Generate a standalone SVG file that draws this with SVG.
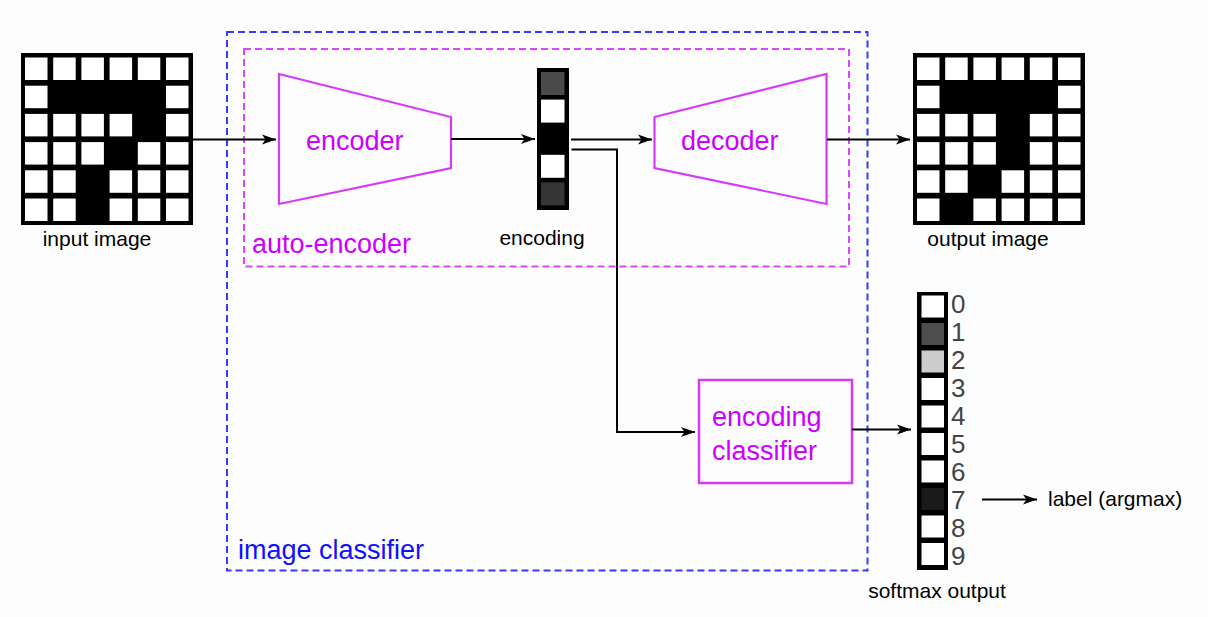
<svg xmlns="http://www.w3.org/2000/svg" width="1208" height="617" viewBox="0 0 1208 617">
<style>
.lbl{font-family:"Liberation Sans",Arial,sans-serif;font-size:21px;fill:#000}
.mg{font-family:"Liberation Sans",Arial,sans-serif;font-size:27px;fill:#CC00FF}
.bl{font-family:"Liberation Sans",Arial,sans-serif;font-size:27px;fill:#1010FF}
.dg{font-family:"Liberation Sans",Arial,sans-serif;font-size:26px;fill:#444}
.conn{fill:none;stroke:#000;stroke-width:2}
.shape{fill:none;stroke:#D63AF9;stroke-width:2.2}
.w{fill:#fff}
</style>
<defs>
<marker id="arr" markerWidth="15" markerHeight="11" refX="14" refY="5.5" orient="auto" markerUnits="userSpaceOnUse">
<path d="M0,0.5 L14,5.5 L0,10.5 L3.5,5.5 Z" fill="#000"/>
</marker>
</defs>
<rect width="1208" height="617" fill="#fdfdfd"/>

<g id="image-classifier">
<rect x="227" y="32" width="640.5" height="538.5" fill="none" stroke="#3838FF" stroke-width="2" stroke-dasharray="7 4"/>
<text class="bl" x="238" y="559">image classifier</text>
</g>

<g id="auto-encoder">
<rect x="244" y="49" width="605" height="217.5" fill="none" stroke="#DD44FF" stroke-width="2" stroke-dasharray="7 4"/>
<text class="mg" x="252" y="253">auto-encoder</text>
</g>

<g id="input-image">
<rect x="21" y="53" width="172" height="172" fill="#000"/>
<g class="w">
<rect x="25" y="57.5" width="22.5" height="22.5"/><rect x="53.2" y="57.5" width="22.5" height="22.5"/><rect x="81.4" y="57.5" width="22.5" height="22.5"/><rect x="109.6" y="57.5" width="22.5" height="22.5"/><rect x="137.8" y="57.5" width="22.5" height="22.5"/><rect x="166" y="57.5" width="22.5" height="22.5"/>
<rect x="25" y="85.7" width="22.5" height="22.5"/><rect x="166" y="85.7" width="22.5" height="22.5"/>
<rect x="25" y="113.9" width="22.5" height="22.5"/><rect x="53.2" y="113.9" width="22.5" height="22.5"/><rect x="81.4" y="113.9" width="22.5" height="22.5"/><rect x="109.6" y="113.9" width="22.5" height="22.5"/><rect x="166" y="113.9" width="22.5" height="22.5"/>
<rect x="25" y="142.1" width="22.5" height="22.5"/><rect x="53.2" y="142.1" width="22.5" height="22.5"/><rect x="81.4" y="142.1" width="22.5" height="22.5"/><rect x="137.8" y="142.1" width="22.5" height="22.5"/><rect x="166" y="142.1" width="22.5" height="22.5"/>
<rect x="25" y="170.3" width="22.5" height="22.5"/><rect x="53.2" y="170.3" width="22.5" height="22.5"/><rect x="109.6" y="170.3" width="22.5" height="22.5"/><rect x="137.8" y="170.3" width="22.5" height="22.5"/><rect x="166" y="170.3" width="22.5" height="22.5"/>
<rect x="25" y="198.5" width="22.5" height="22.5"/><rect x="53.2" y="198.5" width="22.5" height="22.5"/><rect x="109.6" y="198.5" width="22.5" height="22.5"/><rect x="137.8" y="198.5" width="22.5" height="22.5"/><rect x="166" y="198.5" width="22.5" height="22.5"/>
</g>
<text class="lbl" x="97" y="246" text-anchor="middle">input image</text>
</g>

<g id="encoder">
<polygon class="shape" points="279,74 451,117 451,168 279,204"/>
<text class="mg" x="306" y="150">encoder</text>
</g>

<g id="encoding">
<rect x="537" y="68" width="32" height="142" fill="#000"/>
<rect x="541" y="72" width="23.5" height="23" fill="#4a4a4a"/>
<rect x="541" y="99.6" width="23.5" height="23" fill="#fff"/>
<rect x="541" y="154.8" width="23.5" height="23" fill="#fff"/>
<rect x="541" y="182.4" width="23.5" height="23" fill="#363636"/>
<text class="lbl" x="542" y="244.5" text-anchor="middle">encoding</text>
</g>

<g id="decoder">
<polygon class="shape" points="654.5,117 826.5,74 826.5,204 654.5,168"/>
<text class="mg" x="681" y="149.5">decoder</text>
</g>

<g id="output-image">
<rect x="913" y="53" width="172" height="172" fill="#000"/>
<g class="w">
<rect x="917" y="57.5" width="22.5" height="22.5"/><rect x="945.2" y="57.5" width="22.5" height="22.5"/><rect x="973.4" y="57.5" width="22.5" height="22.5"/><rect x="1001.6" y="57.5" width="22.5" height="22.5"/><rect x="1029.8" y="57.5" width="22.5" height="22.5"/><rect x="1058" y="57.5" width="22.5" height="22.5"/>
<rect x="917" y="85.7" width="22.5" height="22.5"/><rect x="1058" y="85.7" width="22.5" height="22.5"/>
<rect x="917" y="113.9" width="22.5" height="22.5"/><rect x="945.2" y="113.9" width="22.5" height="22.5"/><rect x="973.4" y="113.9" width="22.5" height="22.5"/><rect x="1029.8" y="113.9" width="22.5" height="22.5"/><rect x="1058" y="113.9" width="22.5" height="22.5"/>
<rect x="917" y="142.1" width="22.5" height="22.5"/><rect x="945.2" y="142.1" width="22.5" height="22.5"/><rect x="973.4" y="142.1" width="22.5" height="22.5"/><rect x="1029.8" y="142.1" width="22.5" height="22.5"/><rect x="1058" y="142.1" width="22.5" height="22.5"/>
<rect x="917" y="170.3" width="22.5" height="22.5"/><rect x="945.2" y="170.3" width="22.5" height="22.5"/><rect x="1001.6" y="170.3" width="22.5" height="22.5"/><rect x="1029.8" y="170.3" width="22.5" height="22.5"/><rect x="1058" y="170.3" width="22.5" height="22.5"/>
<rect x="917" y="198.5" width="22.5" height="22.5"/><rect x="973.4" y="198.5" width="22.5" height="22.5"/><rect x="1001.6" y="198.5" width="22.5" height="22.5"/><rect x="1029.8" y="198.5" width="22.5" height="22.5"/><rect x="1058" y="198.5" width="22.5" height="22.5"/>
</g>
<text class="lbl" x="988" y="246" text-anchor="middle">output image</text>
</g>

<g id="encoding-classifier">
<rect x="699" y="380" width="153" height="103" fill="none" stroke="#D63AF9" stroke-width="2.5"/>
<text class="mg" x="712" y="425.5">encoding</text>
<text class="mg" x="712" y="460">classifier</text>
</g>

<g id="softmax-output">
<rect x="917" y="292" width="31" height="278" fill="#000"/>
<rect x="921.5" y="295.5" width="22.5" height="22" fill="#fff"/>
<rect x="921.5" y="323" width="22.5" height="22" fill="#4d4d4d"/>
<rect x="921.5" y="350.5" width="22.5" height="22" fill="#cccccc"/>
<rect x="921.5" y="378" width="22.5" height="22" fill="#fff"/>
<rect x="921.5" y="405.5" width="22.5" height="22" fill="#fff"/>
<rect x="921.5" y="433" width="22.5" height="22" fill="#fff"/>
<rect x="921.5" y="460.5" width="22.5" height="22" fill="#fff"/>
<rect x="921.5" y="488" width="22.5" height="22" fill="#1a1a1a"/>
<rect x="921.5" y="515.5" width="22.5" height="22" fill="#fff"/>
<rect x="921.5" y="543" width="22.5" height="22" fill="#fff"/>
<text class="dg" x="951" y="313">0</text>
<text class="dg" x="951" y="341">1</text>
<text class="dg" x="951" y="369">2</text>
<text class="dg" x="951" y="397">3</text>
<text class="dg" x="951" y="425">4</text>
<text class="dg" x="951" y="453">5</text>
<text class="dg" x="951" y="481">6</text>
<text class="dg" x="951" y="509">7</text>
<text class="dg" x="951" y="537">8</text>
<text class="dg" x="951" y="565">9</text>
<text class="lbl" x="937" y="598" text-anchor="middle">softmax output</text>
</g>

<g id="label">
<text class="lbl" x="1048" y="506">label (argmax)</text>
</g>

<g id="connectors">
<path class="conn" d="M193,139.5 L276,139.5" marker-end="url(#arr)"/>
<path class="conn" d="M451,139 L535,139" marker-end="url(#arr)"/>
<path class="conn" d="M571,139.5 L652,139.5" marker-end="url(#arr)"/>
<path class="conn" d="M571.5,149.5 L617,149.5 L617,432 L695,432" marker-end="url(#arr)"/>
<path class="conn" d="M827,139.5 L910,139.5" marker-end="url(#arr)"/>
<path class="conn" d="M852,429.5 L911,429.5" marker-end="url(#arr)"/>
<path class="conn" d="M982,499.5 L1037,499.5" marker-end="url(#arr)"/>
</g>
</svg>
